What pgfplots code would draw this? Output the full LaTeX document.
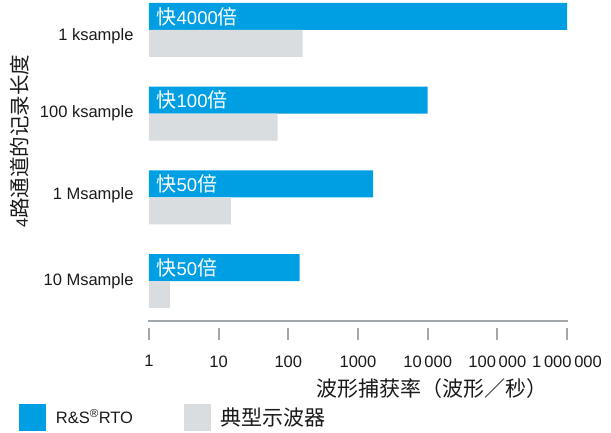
\documentclass[border=0pt]{standalone}
\usepackage{fontspec}
\setmainfont{Liberation Sans}
\newfontfamily\cjk{Noto Sans CJK SC}
\usepackage{pgfplots}
\pgfplotsset{compat=1.18}
\usetikzlibrary{calc}

\definecolor{rsblue}{RGB}{0,159,227}
\definecolor{typgrey}{RGB}{217,221,224}
\definecolor{axgrey}{RGB}{163,168,173}
\definecolor{txt}{RGB}{26,26,26}

\newcommand\lf{\fontsize{16.5}{19}\selectfont}
\newcommand\cf{\fontsize{20}{24}\selectfont\cjk}
\newcommand\cff{\fontsize{21}{25}\selectfont\cjk}
\newcommand\bl{\fontsize{18.5}{22}\selectfont}

\begin{document}
\begin{tikzpicture}
\begin{axis}[
  scale only axis,
  width=418pt, height=325pt,
  xmode=log, xmin=1, xmax=1e6,
  ymin=-0.5615, ymax=3.3226,
  axis lines=left,
  axis line style={draw=none},
  clip=false,
  tick align=outside,
  major tick length=12pt,
  xtick={1,10,100,1000,10000,100000,1000000},
  xticklabels={1,10,100,1000,10\,000,100\,000,1\,000\,000},
  xminorticks=false,
  xtick style={draw=axgrey, line width=2pt},
  xticklabel style={yshift=-12pt},
  ytick={0.0,1.03,2.0,2.92},
  yticklabels={10 Msample,1 Msample,100 ksample,1 ksample},
  ytick style={draw=none},
  tick label style={font=\lf, text=txt},
  xlabel={\cff 波形捕获率（波形／秒）},
  xlabel style={at={(axis description cs:0.677,0)}, anchor=center, yshift=-61pt, text=txt},
  legend columns=2,
  legend cell align=left,
  legend style={at={(rel axis cs:0,0)}, anchor=north west, xshift=-130pt, yshift=-76pt,
    draw=none, fill=none, inner sep=0pt, nodes={inner sep=0pt, text=txt},
    /tikz/every odd column/.append style={column sep=10pt},
    /tikz/every even column/.append style={column sep=51pt}},
]
\addplot[xbar, bar width=0.3226, bar shift=0.1613, fill=rsblue, draw=none,
  legend image code/.code={\fill[rsblue] (0pt,-13.35pt) rectangle (26.7pt,13.35pt);}]
  coordinates {(1000000,3) (10000,2) (1650,1) (145,0)};
\addlegendentry{\lf R\&S\textsuperscript{\textregistered}RTO}
\addplot[xbar, bar width=0.3226, bar shift=-0.1613, fill=typgrey, draw=none,
  legend image code/.code={\fill[typgrey] (0pt,-13.35pt) rectangle (26.7pt,13.35pt);}]
  coordinates {(160,3) (70,2) (15,1) (2,0)};
\addlegendentry{\cff 典型示波器}

\draw[axgrey, line width=2pt] (axis cs:0.97,-0.474) -- (axis cs:1.03e6,-0.474);

\node[anchor=west, inner sep=0pt, text=white, xshift=7.5pt] at (axis cs:1,3.1613) {\bl{\cf 快}4000{\cf 倍}};
\node[anchor=west, inner sep=0pt, text=white, xshift=7.5pt] at (axis cs:1,2.1613) {\bl{\cf 快}100{\cf 倍}};
\node[anchor=west, inner sep=0pt, text=white, xshift=7.5pt] at (axis cs:1,1.1613) {\bl{\cf 快}50{\cf 倍}};
\node[anchor=west, inner sep=0pt, text=white, xshift=7.5pt] at (axis cs:1,0.1613) {\bl{\cf 快}50{\cf 倍}};

\node[rotate=90, text=txt] at (rel axis cs:-0.3086,0.575) {\lf 4{\fontsize{20.5}{24}\selectfont\cjk 路通道的记录长度}};
\coordinate (bl) at (rel axis cs:0,0);
\end{axis}
\pgfresetboundingbox
\path[use as bounding box] ($(bl)+(-149pt,-105pt)$) rectangle ($(bl)+(462pt,328pt)$);
\end{tikzpicture}
\end{document}
